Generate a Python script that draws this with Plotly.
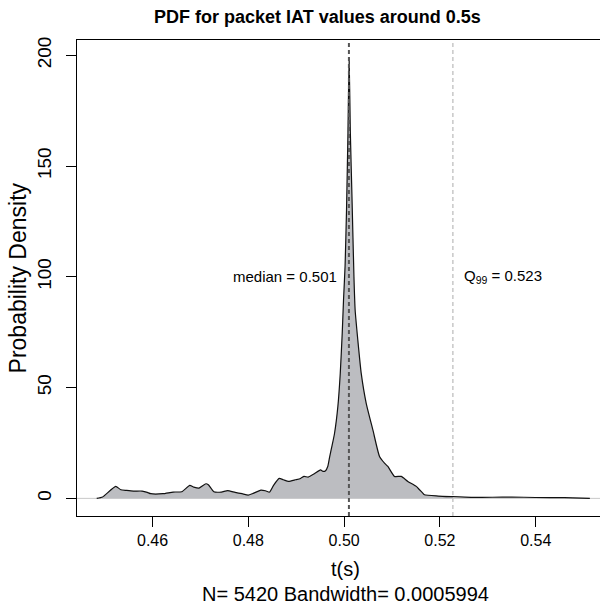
import numpy as np
import plotly.graph_objects as go

# ---- data ----
t_vals = [0.44835, 0.44956, 0.45230, 0.45338, 0.45459, 0.45603, 0.45783, 0.45891,
          0.45964, 0.46215, 0.46430, 0.46610, 0.46777, 0.46862, 0.46971, 0.47115,
          0.47165, 0.47280, 0.47437, 0.47566, 0.47724, 0.47869, 0.47998, 0.48084,
          0.48263, 0.48357, 0.48444, 0.48530, 0.48645, 0.48731, 0.48839, 0.48983,
          0.49090, 0.49163, 0.49249, 0.49378, 0.49507, 0.49560, 0.49612, 0.49660,
          0.49700, 0.49750, 0.49800, 0.49869, 0.49919, 0.49960, 0.49987, 0.50020,
          0.50050, 0.50080, 0.50104, 0.50130, 0.50165, 0.50205, 0.50230, 0.50286,
          0.50357, 0.50461, 0.50600, 0.50739, 0.50843, 0.50913, 0.51052, 0.51192,
          0.51330, 0.51505, 0.51574, 0.51643, 0.51678, 0.51967, 0.52269, 0.52650,
          0.53100, 0.53500, 0.54000, 0.54600, 0.55130]
density = [0.0, 0.6, 5.4, 3.9, 3.6, 3.3, 3.3, 2.7,
           2.1, 2.1, 2.85, 3.0, 5.85, 5.1, 4.65, 6.6,
           6.15, 3.0, 2.85, 3.45, 2.7, 2.1, 1.5, 2.1,
           3.75, 3.45, 2.85, 6.0, 9.0, 8.4, 7.65, 8.4,
           9.0, 9.9, 9.6, 11.1, 12.9, 12.2, 12.5, 14.5,
           19.0, 24.0, 29.4, 41.4, 56.4, 74.4, 89.4, 105.0,
           130.0, 165.0, 199.0, 165.0, 135.0, 100.0, 85.0, 71.4,
           56.4, 42.9, 30.9, 18.9, 15.9, 14.4, 9.9, 9.9,
           7.65, 5.4, 3.9, 2.4, 1.6, 1.05, 0.75, 0.45,
           0.5, 0.6, 0.4, 0.3, 0.0]

median_t = 0.501
q99_t = 0.5227
median_label = "median = 0.501"
q99_label = "Q<sub>99</sub> = 0.523"

x_ticks = [0.46, 0.48, 0.50, 0.52, 0.54]
x_tick_labels = ["0.46", "0.48", "0.50", "0.52", "0.54"]
y_ticks = [0, 50, 100, 150, 200]
y_tick_labels = ["0", "50", "100", "150", "200"]

title_text = "<b>PDF for packet IAT values around 0.5s</b>"
x_title = "t(s)"
y_title = "Probability Density"
sub_text = "N= 5420 Bandwidth= 0.0005994"

FONT = "Liberation Sans, Arial, Helvetica, sans-serif"

# filled part: up to the 99th percentile
t_arr = np.array(t_vals)
d_arr = np.array(density)
mask = t_arr <= q99_t
fill_t = list(t_arr[mask]) + [q99_t, q99_t]
fill_d = list(d_arr[mask]) + [float(np.interp(q99_t, t_arr, d_arr)), 0.0]

fig = go.Figure()

# light baseline at zero
fig.add_shape(type="line", xref="paper", yref="y", x0=0, x1=1, y0=0, y1=0,
              line=dict(color="#c8c8c8", width=1), layer="below")

fig.add_trace(go.Scatter(x=fill_t, y=fill_d, mode="lines", fill="tozeroy",
                         fillcolor="#bcbdc1",
                         line=dict(width=0, color="rgba(0,0,0,0)", shape="spline", smoothing=0.5),
                         hoverinfo="skip", showlegend=False))
fig.add_trace(go.Scatter(x=t_vals, y=density, mode="lines",
                         line=dict(color="#111111", width=1.2, shape="spline", smoothing=0.5),
                         showlegend=False))

# median & Q99 lines
fig.add_shape(type="line", xref="x", yref="paper", x0=median_t, x1=median_t, y0=0, y1=1,
              line=dict(color="#555555", width=2, dash="4px,3px"), layer="above")
fig.add_shape(type="line", xref="x", yref="paper", x0=q99_t, x1=q99_t, y0=0, y1=1,
              line=dict(color="#c8c8c8", width=1.5, dash="4px,3px"), layer="above")

annotations = [
    dict(text=title_text, x=0.459, y=1.048, xref="paper", yref="paper",
         xanchor="center", yanchor="middle", showarrow=False,
         font=dict(size=18, family=FONT, color="black")),
    dict(text=x_title, x=0.514, y=-0.111, xref="paper", yref="paper",
         xanchor="center", yanchor="middle", showarrow=False,
         font=dict(size=20, family=FONT, color="black")),
    dict(text=sub_text, x=0.514, y=-0.164, xref="paper", yref="paper",
         xanchor="center", yanchor="middle", showarrow=False,
         font=dict(size=20, family=FONT, color="black")),
    dict(text=y_title, x=-0.112, y=0.5, xref="paper", yref="paper", textangle=-90,
         xanchor="center", yanchor="middle", showarrow=False,
         font=dict(size=23, family=FONT, color="black")),
    dict(text=median_label, x=median_t - 0.0021, y=100, xref="x", yref="y",
         xanchor="right", yanchor="middle", showarrow=False,
         font=dict(size=15, family=FONT, color="black")),
    dict(text=q99_label, x=q99_t + 0.0020, y=100, xref="x", yref="y",
         xanchor="left", yanchor="middle", showarrow=False,
         font=dict(size=15, family=FONT, color="black")),
]

fig.update_layout(
    width=600, height=606,
    margin=dict(l=77, r=0, t=40, b=90, pad=0),
    paper_bgcolor="white", plot_bgcolor="white",
    font=dict(family=FONT, color="black"),
    annotations=annotations,
    xaxis=dict(range=[0.44423, 0.55342], tickvals=x_ticks, ticktext=x_tick_labels,
               ticks="outside", ticklen=10, tickwidth=1, tickcolor="black",
               showline=True, linecolor="black", linewidth=1, mirror=True,
               showgrid=False, zeroline=False, tickfont=dict(size=16, family=FONT)),
    yaxis=dict(range=[-7.96, 206.9], tickvals=y_ticks, ticktext=y_tick_labels,
               ticks="outside", ticklen=10, tickwidth=1, tickcolor="black",
               showline=True, linecolor="black", linewidth=1, mirror=False,
               tickangle=-90, showgrid=False, zeroline=False, ticklabelstandoff=7,
               tickfont=dict(size=19, family=FONT)),
)

fig.write_html("out.html")
